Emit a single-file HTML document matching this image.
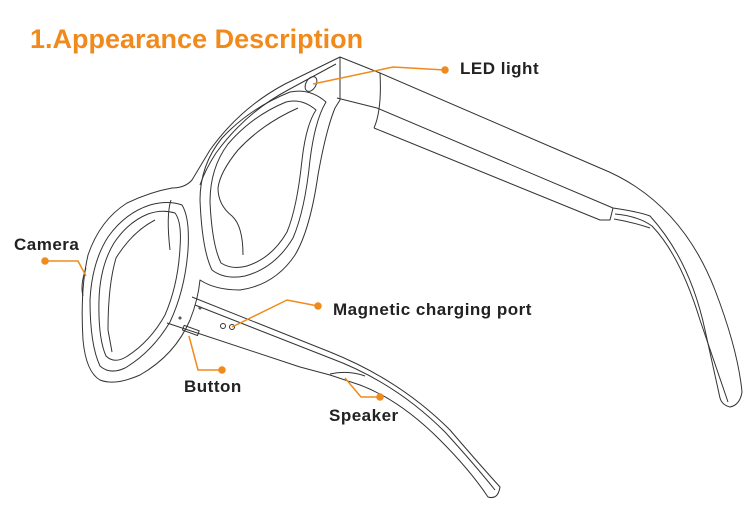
<!DOCTYPE html>
<html><head><meta charset="utf-8"><style>
html,body{margin:0;padding:0;background:#fff;}
body{width:750px;height:508px;position:relative;overflow:hidden;font-family:"Liberation Sans",sans-serif;}
.t{position:absolute;color:#222;font-size:17px;font-weight:bold;letter-spacing:0.5px;white-space:nowrap;}
</style></head><body>
<div style="position:absolute;left:30px;top:24px;color:#f08a1c;font-size:27px;font-weight:bold;">1.Appearance Description</div>
<svg width="750" height="508" style="position:absolute;left:0;top:0" fill="none" stroke="#333" stroke-width="1" stroke-linejoin="round">
<path d="M340,57 L285,84 Q240,108 210,150 Q198,170 192,180 Q185,188 172,188 Q150,192 127,203 Q100,220 88,255 Q80,290 83,340 Q86,372 100,380 Q115,386 140,375 Q175,355 190,320 Q198,300 200,280 Q215,290 240,290 Q275,285 295,255 Q310,230 318,175 Q326,130 335,108 L340,100 Z"/>
<path d="M336,64 L288,90 Q245,113 216,153 Q205,170 200,185"/>
<path d="M326,102 Q310,88 290,92 Q250,108 222,138 Q200,165 200,200 Q202,250 212,270 Q225,280 245,276 Q275,268 293,238 Q305,210 310,160 Q315,120 326,102 Z"/>
<path d="M316,110 Q302,98 286,102 Q252,116 228,144 Q210,168 210,202 Q212,245 221,263 Q232,270 247,266 Q272,258 287,232 Q297,208 302,160 Q306,125 316,110 Z"/>
<path d="M298,108 Q262,124 238,150 Q220,172 218,188 Q218,205 232,216 Q243,226 243,255"/>
<path d="M182,205 Q168,200 150,205 Q125,213 108,237 Q92,262 90,300 Q90,345 100,366 Q110,375 125,368 Q152,352 170,322 Q185,290 188,250 Q190,218 182,205 Z"/>
<path d="M175,213 Q162,209 148,214 Q128,222 114,243 Q100,266 99,300 Q98,338 106,356 Q114,364 126,357 Q150,342 165,315 Q178,285 180,248 Q182,222 175,213 Z"/>
<path d="M155,220 Q132,232 116,258 Q108,285 108,330 L112,352"/>
<path d="M171,200 Q166,215 170,250"/>
<path d="M340,57 L380,73 L600,168 Q680,200 715,290 Q738,350 742,392 Q740,405 730,407 Q722,405 720,398 L705,330 Q690,260 650,216 Q640,212 613,208 L377,108 L337,98"/>
<path d="M380,73 Q382,110 374,128"/>
<path d="M374,128 L600,220 L610,220 L613,208"/>
<path d="M615,214 Q638,216 652,226 Q680,255 700,320 L728,402"/>
<path d="M614,219 Q632,222 650,228"/>
<ellipse cx="311" cy="84" rx="5" ry="8" transform="rotate(30 311 84)"/>
<path d="M192,297 L330,352 Q400,380 450,430 Q480,465 500,487 Q498,500 488,497 Q470,470 440,440 Q400,400 360,385 L330,375 L300,367 L167,323"/>
<path d="M195,305 L330,358 Q395,382 445,432 Q475,465 495,490"/>
<path d="M330,374 Q348,370 365,376"/>
<rect x="183" y="328" width="16" height="5" transform="rotate(20 191 330)"/>
<circle cx="223" cy="326" r="2.5"/><circle cx="232" cy="327" r="2.5"/>
<circle cx="200" cy="308" r="1"/><circle cx="180" cy="318" r="1"/>
<path d="M86,268 Q80,285 83,296"/>
</svg>
<svg width="750" height="508" style="position:absolute;left:0;top:0" fill="none" stroke="#f08a1c" stroke-width="1.5">
<path d="M445,70 L393,67 L313,84"/><circle cx="445" cy="70" r="3" fill="#f08a1c"/>
<path d="M45,261 L78,261 L86,276"/><circle cx="45" cy="261" r="3" fill="#f08a1c"/>
<path d="M318,306 L287,300 L232,327"/><circle cx="318" cy="306" r="3" fill="#f08a1c"/>
<path d="M222,370 L198,370 L189,336"/><circle cx="222" cy="370" r="3" fill="#f08a1c"/>
<path d="M380,397 L361,397 L345,378"/><circle cx="380" cy="397" r="3" fill="#f08a1c"/>
</svg>
<div class="t" style="left:460px;top:59px;">LED light</div>
<div class="t" style="left:14px;top:235px;">Camera</div>
<div class="t" style="left:333px;top:300px;">Magnetic charging port</div>
<div class="t" style="left:184px;top:377px;">Button</div>
<div class="t" style="left:329px;top:406px;">Speaker</div>
</body></html>
